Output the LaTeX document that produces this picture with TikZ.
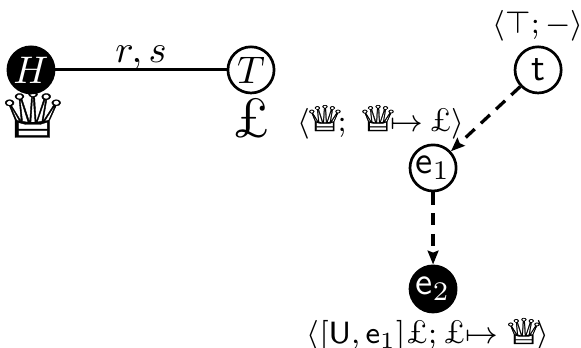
\documentclass[tikz,border=0pt]{standalone}
\usepackage{fontspec}
\usepackage{amsmath}
\usepackage{graphicx}
\newfontfamily\queenfont[RawFeature={embolden=0.5}]{DejaVu Sans}
\usetikzlibrary{arrows.meta,positioning}
\font\poundbig=cmu10 at 14.4pt
\font\poundsmall=cmu10 at 8.5pt
\newcommand{\wqueen}{\makebox[7.2pt]{\hspace{0.6pt}\queenfont\fontsize{12}{12}\selectfont\scalebox{1}[0.77]{\char"2655}}}
\newcommand{\bigqueen}{\makebox[12.6pt]{\hspace{1pt}\queenfont\fontsize{12}{12}\selectfont\scalebox{1.78}[1.37]{\char"2655}}}
\newcommand{\lpound}{\mbox{\poundsmall\char"24}}
\tikzset{
vertwhite/.style={circle,fill=white,draw=black,text=black,line width=0.7pt,minimum size=12pt,inner sep=0pt},
vertblack/.style={circle,fill=black,draw=black,text=white,line width=0.7pt,minimum size=12pt,inner sep=0pt},
stateedge/.style={-{Stealth[length=3.6pt,width=2.8pt,inset=0.5pt]},draw=black,line width=0.85pt,dash pattern=on 3.2pt off 2.2pt},
}
\begin{document}
\begin{tikzpicture}
\useasboundingbox (0,0) rectangle (5.31,3.18);
\node[vertblack] (h) at (0.283,2.541) {$H$};
\node[vertwhite] (tt) at (2.294,2.541) {$T$};
\node[vertwhite] (t) at (4.918,2.541) {$\mathsf{t}$};
\node[vertwhite] (e1) at (3.958,1.645) {$\mathsf{e}_1$};
\node[vertblack] (e2) at (3.958,0.539) {$\mathsf{e}_2$};
\draw[line width=0.8pt] (h) -- node[pos=0.5,above,inner sep=0pt,yshift=-0.5pt] {$r,s$} (tt);
\draw[stateedge] (t) -- (e1);
\draw[stateedge] (e1) -- (e2);
\node[below=-1pt of h,inner sep=0pt] (hq) {\bigqueen};
\node[below=1pt of tt,inner sep=0pt] (tp) {\poundbig\char"24};
\node[above=1pt of t,inner sep=0pt,font=\footnotesize] (tl) {$\langle\top;-\rangle$};
\node[anchor=east,inner sep=0pt,font=\footnotesize] (e1l) at (4.25,2.066) {$\langle\wqueen;\ \wqueen{\mapsto}\,\lpound\rangle$};
\node[below=1pt of e2,inner sep=0pt,xshift=-1.3pt,font=\footnotesize] (e2l) {$\langle[\mathsf{U},\mathsf{e}_1]\lpound;\lpound{\mapsto}\ \wqueen\rangle$};
\end{tikzpicture}
\end{document}
